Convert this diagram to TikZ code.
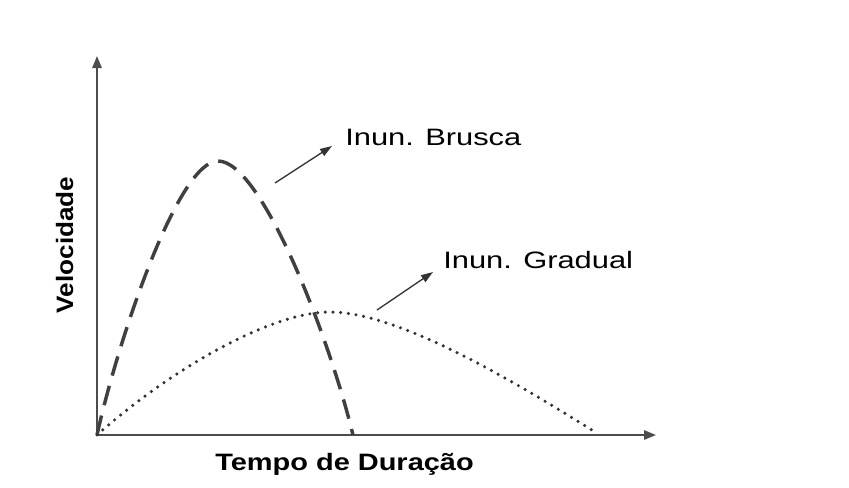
\documentclass[tikz,border=0pt]{standalone}
\usepackage{fontspec}
\setmainfont{Liberation Sans}
\usetikzlibrary{arrows.meta}

\begin{document}
\begin{tikzpicture}[x=0.75pt, y=-0.75pt,
    axis/.style = {draw=black!70, line width=1.4pt, -{Triangle[length=9pt, width=7pt]}},
    pointer/.style = {draw=black!80, line width=1pt, -{Triangle[length=9pt, width=6pt]}},
    fast/.style = {draw=black!75, line width=2.6pt, dash pattern=on 15pt off 8pt},
    slow/.style = {draw=black!80, line width=2.6pt, line cap=round, dash pattern=on 0pt off 5.8pt},
    lbl/.style = {inner sep=0pt, anchor=base west, font=\fontsize{17.8}{20}\selectfont},
    ttl/.style = {inner sep=0pt, font=\bfseries\fontsize{17.8}{20}\selectfont}]
    \useasboundingbox (0,0) rectangle (849,487);
    % axes
    \coordinate (O) at (97,435);
    \coordinate (ytip) at (97,56);
    \coordinate (xtip) at (656,435);
    \draw[axis] (O) -- (ytip);
    \draw[axis] (O) -- (xtip);
    % curves
    \coordinate (fastend) at (353,435);
    \coordinate (slowend) at (595,432);
    \draw[fast] (O) .. controls (118,340) and (178,161) .. (218,161)
                    .. controls (262,161) and (330,340) .. (fastend);
    \draw[slow] (O) .. controls (170,370) and (270,312) .. (330,312)
                    .. controls (400,312) and (520,385) .. (slowend);
    % labels
    \node[lbl] (brusca) at (345,145) {\scalebox{1.3}[1]{Inun. Brusca}};
    \node[lbl] (gradual) at (443,268) {\scalebox{1.3}[1]{Inun. Gradual}};
    \node[ttl, anchor=base west] (tempo) at (215,470) {\scalebox{1.22}[1]{Tempo de Duração}};
    \node[ttl, rotate=90, anchor=base] (vel) at (73,245) {\scalebox{1.1}[1]{Velocidade}};
    \coordinate (bt) at (275,183);
    \coordinate (gt) at (377,310);
    \draw[pointer] (bt) -- ([xshift=-9.75pt, yshift=-0.75pt]brusca.base west);
    \draw[pointer] (gt) -- ([xshift=-7.5pt, yshift=-3pt]gradual.base west);
\end{tikzpicture}
\end{document}
